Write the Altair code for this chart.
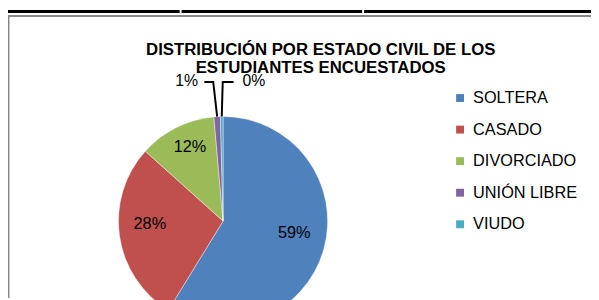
import math
import altair as alt
import pandas as pd

# ---- data ----
cats = ["SOLTERA", "CASADO", "DIVORCIADO", "UNIÓN LIBRE", "VIUDO"]
values = [59, 28, 12, 1, 0.4]
colors = ["#4F81BD", "#C0504D", "#9BBB59", "#8064A2", "#4BACC6"]
title_lines = ["DISTRIBUCIÓN POR ESTADO CIVIL DE LOS", "ESTUDIANTES ENCUESTADOS"]

df = pd.DataFrame({"cat": cats, "value": values, "idx": list(range(len(cats)))})

# ---- layout ----
W, H = 591, 292
CX, CY, R = 218, 214, 106
FONT = "Liberation Sans"

# leader lines for the two tiny slices, anchored on each slice's mid angle
total = sum(values)
cum = 0
mids = {}
for c, v in zip(cats, values):
    mids[c] = (cum + v / 2) / total * 2 * math.pi
    cum += v
lead_rows = []
for grp, c, ex, hx in [("a", "UNIÓN LIBRE", -4, -9), ("b", "VIUDO", 1, 11)]:
    a = mids[c]
    rx, ry = CX + R * math.sin(a), CY - R * math.cos(a)
    ey = CY - R - 35
    lead_rows += [
        {"grp": grp, "seq": 0, "px": rx, "py": ry},
        {"grp": grp, "seq": 1, "px": rx + ex, "py": ey},
        {"grp": grp, "seq": 2, "px": rx + ex + hx, "py": ey},
    ]
lead_df = pd.DataFrame(lead_rows)

empty = alt.Data(values=[{}])

# frame / document decoration
bar_df = pd.DataFrame({"x1": [-3, 176, 361], "x2": [174, 359, W]})
black_bar = alt.Chart(bar_df).mark_rule(color="black", strokeWidth=3).encode(
    x=alt.X("x1:Q", scale=None), x2="x2:Q", y=alt.value(1.5)
)
frame_top = alt.Chart(empty).mark_rule(color="#888888", strokeWidth=2).encode(
    x=alt.value(0), x2=alt.value(W), y=alt.value(6)
)
frame_left = alt.Chart(empty).mark_rule(color="#888888", strokeWidth=2).encode(
    x=alt.value(0.5), y=alt.value(6), y2=alt.value(H)
)

title = alt.Chart(empty).mark_text(
    text=title_lines, font=FONT, fontSize=17, fontWeight="bold",
    lineHeight=18, align="center", baseline="alphabetic", color="black"
).encode(x=alt.value(317), y=alt.value(46))

base = alt.Chart(df).transform_calculate(
    lbl="format(datum.value/100, '.0%')"
)

pie = base.mark_arc(outerRadius=R, stroke="white", strokeWidth=0.4).encode(
    theta=alt.Theta("value:Q", stack=True),
    color=alt.Color(
        "cat:N",
        scale=alt.Scale(domain=cats, range=colors),
        legend=alt.Legend(
            orient="none", legendX=450, legendY=81, title=None,
            symbolType="square", symbolSize=64, symbolStrokeWidth=0,
            labelFontSize=16.5, labelFont=FONT, labelColor="black",
            rowPadding=15, labelOffset=5, padding=0,
        ),
    ),
    order=alt.Order("idx:Q"),
    x=alt.value(CX),
    y=alt.value(CY),
)

big_labels = base.mark_text(radius=75, dy=-8, font=FONT, fontSize=16.5, color="black").encode(
    theta=alt.Theta("value:Q", stack=True),
    order=alt.Order("idx:Q"),
    text=alt.condition("datum.value >= 5", "lbl:N", alt.value("")),
    x=alt.value(CX),
    y=alt.value(CY),
)

lab_ul = base.mark_text(radius=142, dx=-29, font=FONT, fontSize=16, color="black").encode(
    theta=alt.Theta("value:Q", stack=True),
    order=alt.Order("idx:Q"),
    text=alt.condition("datum.cat == 'UNIÓN LIBRE'", "lbl:N", alt.value("")),
    x=alt.value(CX),
    y=alt.value(CY),
)
lab_v = base.mark_text(radius=142, dx=33, font=FONT, fontSize=16, color="black").encode(
    theta=alt.Theta("value:Q", stack=True),
    order=alt.Order("idx:Q"),
    text=alt.condition("datum.cat == 'VIUDO'", "lbl:N", alt.value("")),
    x=alt.value(CX),
    y=alt.value(CY),
)

leaders = alt.Chart(lead_df).mark_line(color="black", strokeWidth=2).encode(
    x=alt.X("px:Q", scale=None),
    y=alt.Y("py:Q", scale=None),
    detail="grp:N",
    order="seq:Q",
)

chart = alt.layer(
    black_bar, frame_top, frame_left, pie, big_labels, leaders, lab_ul, lab_v, title
).properties(
    width=W, height=H, autosize=alt.AutoSizeParams(type="none"), padding=0,
    background="white",
).configure_view(stroke=None)

chart.save("out.html", embed_options={"renderer": "svg", "actions": False})
